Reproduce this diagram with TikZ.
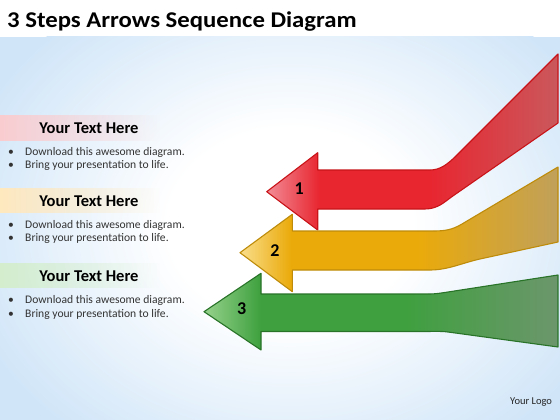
\documentclass[tikz,border=0pt]{standalone}
\usepackage{fontspec}
\usepackage{graphicx}
\setmainfont{Carlito}
\usetikzlibrary{fadings}
\definecolor{bgblue}{RGB}{208,229,248}
\definecolor{rTip}{RGB}{242,140,150}
\definecolor{rMain}{RGB}{232,38,48}
\definecolor{rEnd}{RGB}{202,88,92}
\definecolor{rLine}{RGB}{200,20,25}
\definecolor{yTip}{RGB}{250,222,140}
\definecolor{yMain}{RGB}{234,170,10}
\definecolor{yEnd}{RGB}{192,160,90}
\definecolor{yLine}{RGB}{190,140,10}
\definecolor{gTip}{RGB}{150,210,140}
\definecolor{gMain}{RGB}{62,160,62}
\definecolor{gEnd}{RGB}{108,150,108}
\definecolor{gLine}{RGB}{40,115,40}
\definecolor{pinkband}{RGB}{250,205,208}
\definecolor{yelband}{RGB}{255,232,190}
\definecolor{grnband}{RGB}{212,238,205}
\pgfdeclareradialshading{bgsh}{\pgfpoint{0bp}{0bp}}{color(0bp)=(white); color(9bp)=(white); color(25bp)=(bgblue); color(50bp)=(bgblue)}
\pgfdeclarehorizontalshading{redsh}{100bp}{color(0bp)=(rTip); color(25bp)=(rTip); color(34bp)=(rMain); color(53bp)=(rMain); color(75bp)=(rEnd); color(100bp)=(rEnd)}
\pgfdeclarehorizontalshading{yelsh}{100bp}{color(0bp)=(yTip); color(25bp)=(yTip); color(33bp)=(yMain); color(53bp)=(yMain); color(75bp)=(yEnd); color(100bp)=(yEnd)}
\pgfdeclarehorizontalshading{grnsh}{100bp}{color(0bp)=(gTip); color(25bp)=(gTip); color(33bp)=(gMain); color(53bp)=(gMain); color(75bp)=(gEnd); color(100bp)=(gEnd)}
\tikzfading[name=fadeR, left color=transparent!0, right color=transparent!100]
\begin{document}
\begin{tikzpicture}[x=1pt,y=-1pt,
  band/.style={path fading=fadeR},
  head/.style={font=\fontsize{16.5}{18}\selectfont\bfseries, anchor=base, inner sep=0pt},
  bul/.style={font=\fontsize{11.6}{13}\selectfont, anchor=base west, inner sep=0pt, text=black!80},
  num/.style={font=\fontsize{18}{20}\selectfont\bfseries, inner sep=0pt},
  arr/.style={line width=1.1pt, line join=round}]
\useasboundingbox (0,0) rectangle (560,420);
% background
\fill[white] (0,0) rectangle (560,420);
\begin{scope}
\clip (0,37) rectangle (560,420);
\fill[bgblue] (0,37) rectangle (560,420);
\shade[shading=bgsh] (290,225) ellipse [x radius=340, y radius=270];
\end{scope}
% title
\node[anchor=base west, inner sep=0pt, font=\fontsize{22.5}{26}\selectfont\bfseries] (title) at (7,27.5) {\scalebox{1.1}[1]{3 Steps Arrows Sequence Diagram}};
% left bands
\fill[pinkband, band] (0,115) rectangle (160,141.5);
\fill[yelband, band] (0,188) rectangle (160,213);
\fill[grnband, band] (0,263) rectangle (160,288);
% block 1
\node[head] (h1) at (89,133.3) {Your Text Here};
\node[bul] (b1a) at (8,155) {•};
\node[bul] (t1a) at (25,155) {Download this awesome diagram.};
\node[bul] (b1b) at (8,168.5) {•};
\node[bul] (t1b) at (25,168.5) {Bring your presentation to life.};
% block 2
\node[head] (h2) at (89,206) {Your Text Here};
\node[bul] (b2a) at (8,228.3) {•};
\node[bul] (t2a) at (25,228.3) {Download this awesome diagram.};
\node[bul] (b2b) at (8,241.5) {•};
\node[bul] (t2b) at (25,241.5) {Bring your presentation to life.};
% block 3
\node[head] (h3) at (89,281.7) {Your Text Here};
\node[bul] (b3a) at (8,303.5) {•};
\node[bul] (t3a) at (25,303.5) {Download this awesome diagram.};
\node[bul] (b3b) at (8,317) {•};
\node[bul] (t3b) at (25,317) {Bring your presentation to life.};
% red arrow
\shadedraw[arr, shading=redsh, draw=rLine] (266.7,191.7) -- (317.7,152.7) -- (317.7,170) -- (430,170)
  .. controls (440,170) and (447,164.5) .. (455,157) -- (558,54) -- (558,123) -- (452,196.6)
  .. controls (445,201.5) and (438,209) .. (425,209) -- (317.7,209) -- (317.7,230) -- cycle;
% yellow arrow
\shadedraw[arr, shading=yelsh, draw=yLine] (240,252.7) -- (292.3,214.3) -- (292.3,231) -- (433,231)
  .. controls (445,231) and (452,229.9) .. (462,224) -- (558,167) -- (558,242) -- (480,259)
  .. controls (462,263) and (448,270) .. (430,270) -- (292.3,270) -- (292.3,291.7) -- cycle;
% green arrow
\shadedraw[arr, shading=grnsh, draw=gLine] (204,311.7) -- (261,273.3) -- (261,294) -- (428,294)
  .. controls (436,294) and (440,293.2) .. (448,292) -- (558,275) -- (558,347) -- (448,332)
  .. controls (440,331) and (434,331.5) .. (425,331.5) -- (261,331.5) -- (261,350) -- cycle;
% numbers
\node[num] (n1) at (299.3,188.3) {1};
\node[num] (n2) at (275,250.7) {2};
\node[num] (n3) at (241.7,308.3) {3};
% logo
\node[anchor=base west, inner sep=0pt, font=\fontsize{10.5}{12}\selectfont, text=black!85] (logo) at (510,404) {Your Logo};
\end{tikzpicture}
\end{document}
